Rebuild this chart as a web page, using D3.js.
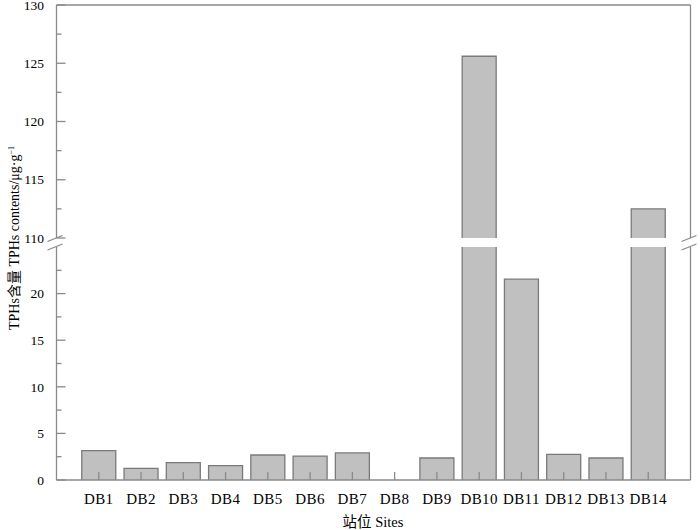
<!DOCTYPE html>
<html><head><meta charset="utf-8">
<script src="https://cdn.jsdelivr.net/npm/d3@7/dist/d3.min.js"></script>
<style>body{margin:0;background:#fff}svg text{font-family:"Liberation Serif","Times New Roman","Noto Sans CJK SC",serif;fill:#000}</style>
</head><body><svg id="c" width="700" height="530"></svg>
<script>
const sites = ["DB1","DB2","DB3","DB4","DB5","DB6","DB7","DB8","DB9","DB10","DB11","DB12","DB13","DB14"];
const tph = [3.15,1.25,1.86,1.54,2.68,2.57,2.9,0,2.36,125.6,21.55,2.75,2.36,112.5];
const lowTicks = [0,5,10,15,20];
const highTicks = [110,115,120,125,130];
const lowDomain = [0,25], highDomain = [110,130];

const svg = d3.select("#c");
const L = 56.5, R = 690.5, B = 480, T = 5;
const x = d3.scaleLinear().domain([0, sites.length + 1]).range([L, R]);
const yLow = d3.scaleLinear().domain(lowDomain).range([B, 247]);
const yHigh = d3.scaleLinear().domain(highDomain).range([238, T]);
const axisCol = "#8a8a8a", barFill = "#c0c0c0", barStroke = "#7a7a7a";
const bw = 34;

// bars
const g = svg.append("g");
tph.forEach((v, i) => {
  const cx = x(i + 1), x0 = cx - bw/2, x1 = cx + bw/2;
  if (v <= 0) return;
  const lowTop = yLow(Math.min(v, lowDomain[1]));
  g.append("rect").attr("x", x0).attr("y", lowTop).attr("width", bw).attr("height", B - lowTop).attr("fill", barFill);
  const p = d3.path();
  p.moveTo(x0, B); p.lineTo(x0, lowTop);
  if (v <= lowDomain[1]) p.lineTo(x1, lowTop); else p.moveTo(x1, lowTop);
  p.lineTo(x1, B);
  g.append("path").attr("d", p.toString()).attr("fill", "none").attr("stroke", barStroke).attr("stroke-width", 1.3);
  if (v > highDomain[0]) {
    const top = yHigh(v), bot = yHigh(highDomain[0]);
    g.append("rect").attr("x", x0).attr("y", top).attr("width", bw).attr("height", bot - top).attr("fill", barFill);
    const q = d3.path();
    q.moveTo(x0, bot); q.lineTo(x0, top); q.lineTo(x1, top); q.lineTo(x1, bot);
    g.append("path").attr("d", q.toString()).attr("fill", "none").attr("stroke", barStroke).attr("stroke-width", 1.3);
  }
});

// frame lines
const ax = svg.append("g").attr("stroke", axisCol).attr("stroke-width", 1.3).attr("fill", "none");
ax.append("line").attr("x1", L).attr("x2", L).attr("y1", T).attr("y2", 238);
ax.append("line").attr("x1", L).attr("x2", L).attr("y1", 247).attr("y2", B);
ax.append("line").attr("x1", R).attr("x2", R).attr("y1", T).attr("y2", 238);
ax.append("line").attr("x1", R).attr("x2", R).attr("y1", 247).attr("y2", B);
ax.append("line").attr("x1", L).attr("x2", R).attr("y1", T).attr("y2", T);
ax.append("line").attr("x1", L).attr("x2", R).attr("y1", B).attr("y2", B);
// break marks
[L, R].forEach(bx => {
  ax.append("line").attr("x1", bx - 9).attr("y1", 241.5).attr("x2", bx + 6).attr("y2", 235.5);
  ax.append("line").attr("x1", bx - 9).attr("y1", 250).attr("x2", bx + 6).attr("y2", 244);
});

// y ticks
function yTicks(scale, ticks, dom) {
  ticks.forEach(t => {
    const y = scale(t);
    ax.append("line").attr("x1", L).attr("x2", L + 9).attr("y1", y).attr("y2", y);
    svg.append("text").attr("x", 44).attr("y", y).attr("dy", "0.35em").attr("text-anchor", "end").attr("font-size", 13.5).text(t);
  });
  for (let m = dom[0] + 2.5; m < dom[1]; m += 5) {
    const y = scale(m);
    ax.append("line").attr("x1", L).attr("x2", L + 5).attr("y1", y).attr("y2", y);
  }
}
yTicks(yLow, lowTicks, lowDomain);
yTicks(yHigh, highTicks, highDomain);

// x ticks and labels
sites.forEach((s, i) => {
  const cx = x(i + 1);
  ax.append("line").attr("x1", cx).attr("x2", cx).attr("y1", B).attr("y2", B - 8);
  svg.append("text").attr("x", cx).attr("y", 504).attr("text-anchor", "middle").attr("font-size", 15).attr("letter-spacing", 0.4).text(s);
});

// axis titles
svg.append("text").attr("x", 373).attr("y", 527).attr("text-anchor", "middle").attr("font-size", 14.5).text("站位 Sites");
const yt = svg.append("text").attr("transform", "translate(19,238) rotate(-90)").attr("text-anchor", "middle").attr("font-size", 14);
yt.append("tspan").text("TPHs含量 TPHs contents/μg·g");
yt.append("tspan").attr("dy", -5).attr("font-size", 8).text("−1");
</script></body></html>
